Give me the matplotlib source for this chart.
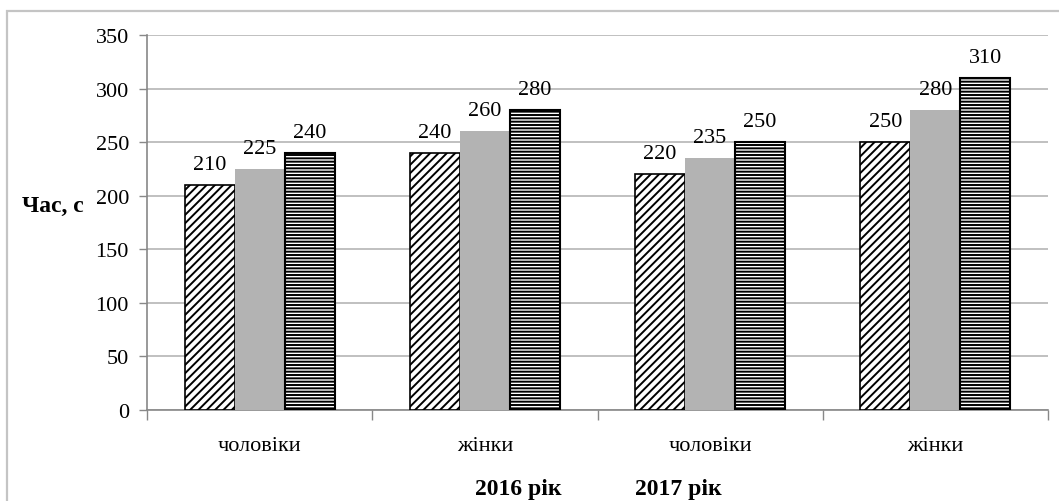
import matplotlib
matplotlib.use("Agg")
import matplotlib.pyplot as plt
from matplotlib.patches import Rectangle
import numpy as np

plt.rcParams['font.family'] = ['Liberation Serif', 'DejaVu Serif']
plt.rcParams['hatch.color'] = 'black'
plt.rcParams['hatch.linewidth'] = 1.4

categories = ['чоловіки', 'жінки', 'чоловіки', 'жінки']
series_hatched = [210, 240, 220, 250]
series_gray = [225, 260, 235, 280]
series_striped = [240, 280, 250, 310]
yticks = [0, 50, 100, 150, 200, 250, 300, 350]
year_labels = ['2016 рік', '2017 рік']
y_label = 'Час, с'

fig = plt.figure(figsize=(10.59, 5.02), dpi=100)
ax = fig.add_axes([147/1059, 1 - 411/502, 901/1059, 375/502])

x = np.arange(len(categories))
w = 0.222

styles = [
    dict(values=series_hatched, offset=-w, facecolor='white', hatch='////', edgecolor='black', lw=1.2),
    dict(values=series_gray, offset=0, facecolor='#b3b3b3', hatch=None, edgecolor='none', lw=0),
    dict(values=series_striped, offset=w, facecolor='white', hatch='-----', edgecolor='black', lw=1.5),
]
for s in styles:
    bars = ax.bar(x + s['offset'], s['values'], width=w, facecolor=s['facecolor'],
                  hatch=s['hatch'], edgecolor=s['edgecolor'], linewidth=s['lw'], zorder=3)
    for b, v in zip(bars, s['values']):
        ax.annotate(str(v), (b.get_x() + b.get_width() / 2, v), xytext=(0, 8),
                    textcoords='offset points', ha='center', va='bottom',
                    fontsize=16, zorder=4)

ax.set_xlim(-0.5, len(categories) - 0.5)
ax.set_ylim(0, 350)
ax.set_yticks(yticks)
ax.set_yticklabels([str(t) for t in yticks], fontsize=16)
ax.yaxis.grid(True, color='#b5b5b5', linewidth=1.2, zorder=0)
ax.set_axisbelow(True)

# category labels centred under each group, tick marks at group boundaries
ax.set_xticks(np.arange(-0.5, len(categories), 1.0))
ax.set_xticklabels([])
ax.set_xticks(x, minor=True)
ax.set_xticklabels(categories, minor=True, fontsize=16)
ax.tick_params(axis='x', which='minor', length=0, pad=19)
ax.tick_params(axis='x', which='major', length=7, color='#888888', width=1)
ax.tick_params(axis='y', length=6, color='#888888', width=1, pad=7)

for side in ['top', 'right']:
    ax.spines[side].set_visible(False)
for side in ['left', 'bottom']:
    ax.spines[side].set_color('#888888')
    ax.spines[side].set_linewidth(1.2)

fig.text(22/1059, 1 - 206/502, y_label, fontsize=17, fontweight='bold',
         ha='left', va='center')
fig.text(518/1059, 1 - 490/502, year_labels[0], fontsize=17, fontweight='bold',
         ha='center', va='center')
fig.text(678/1059, 1 - 490/502, year_labels[1], fontsize=17, fontweight='bold',
         ha='center', va='center')

# outer frame around the chart area
fig.patches.append(Rectangle((7/1059, -0.1), 1.2, 1 - 12/502 + 0.1,
                             transform=fig.transFigure, fill=False,
                             edgecolor='#c4c4c4', linewidth=1.6))

fig.savefig('out.png', dpi=100)
